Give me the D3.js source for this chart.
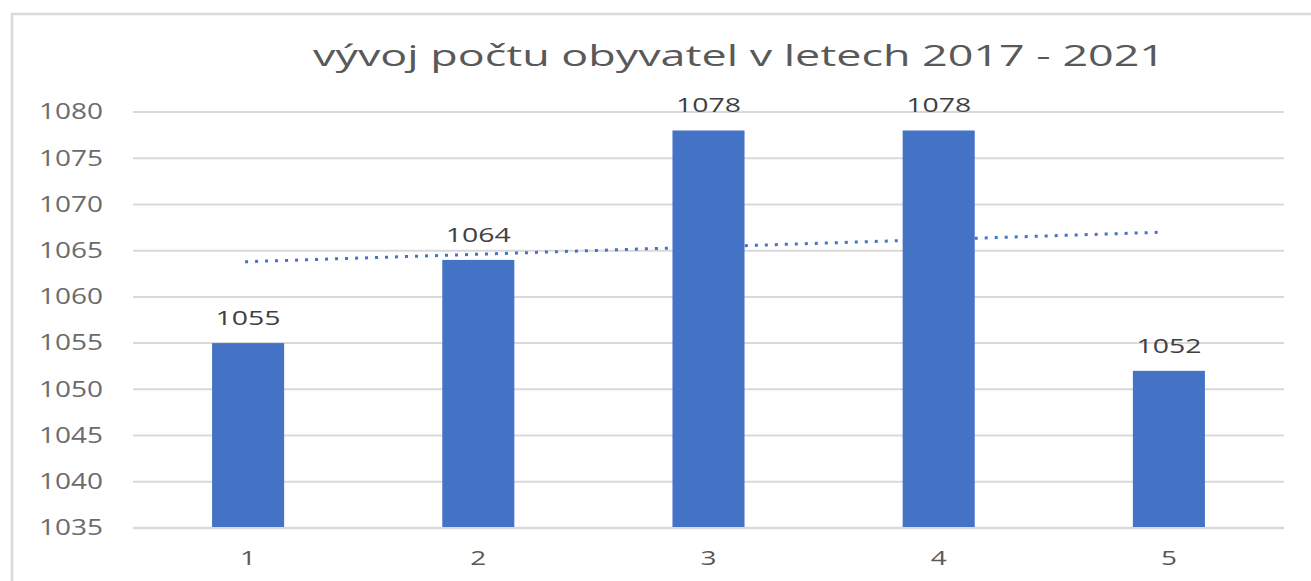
<!DOCTYPE html>
<html>
<head>
<meta charset="utf-8">
<script src="https://cdn.jsdelivr.net/npm/d3@7"></script>
<style>
  body { margin: 0; background: #fff; }
  svg { display: block; }
  text { font-family: "Open Sans", sans-serif; }
</style>
</head>
<body>
<div id="chart"></div>
<script>
// chart data
const titleText = "vývoj počtu obyvatel v letech 2017 - 2021";
const categories = ["1", "2", "3", "4", "5"];
const values = [1055, 1064, 1078, 1078, 1052];
const yTicks = [1035, 1040, 1045, 1050, 1055, 1060, 1065, 1070, 1075, 1080];
// dotted linear trend, read at the first and last category
const trendValues = [1063.8, 1067.0];

const width = 1311, height = 581;
const margin = { top: 112, right: 27, bottom: 53, left: 133 };

const svg = d3.select("#chart").append("svg")
    .attr("width", width)
    .attr("height", height);

// outer chart frame (runs off the right / bottom edge like the screenshot)
svg.append("rect")
    .attr("x", 12).attr("y", 14)
    .attr("width", width + 20).attr("height", height + 20)
    .attr("fill", "none")
    .attr("stroke", "#d9d9d9")
    .attr("stroke-width", 2.5);

const x = d3.scaleBand()
    .domain(categories)
    .range([margin.left, width - margin.right])
    .paddingInner(0.687)
    .paddingOuter(0.3435);

const y = d3.scaleLinear()
    .domain([1035, 1080])
    .range([height - margin.bottom, margin.top]);

// gridlines
svg.append("g")
    .selectAll("line")
    .data(yTicks)
    .join("line")
    .attr("x1", margin.left)
    .attr("x2", width - margin.right)
    .attr("y1", d => y(d))
    .attr("y2", d => y(d))
    .attr("stroke", "#d9d9d9")
    .attr("stroke-width", d => d === 1035 ? 2.5 : 2);

// y tick labels
svg.append("g")
    .selectAll("text")
    .data(yTicks)
    .join("text")
    .attr("x", 103)
    .attr("y", d => y(d))
    .attr("dy", "0.35em")
    .attr("text-anchor", "end")
    .attr("font-size", 21)
    .attr("fill", "#6b6b6b")
    .attr("textLength", 64)
    .attr("lengthAdjust", "spacingAndGlyphs")
    .text(d => d);

// bars
svg.append("g")
    .selectAll("rect")
    .data(values)
    .join("rect")
    .attr("x", (d, i) => x(categories[i]))
    .attr("width", x.bandwidth())
    .attr("y", d => y(d))
    .attr("height", d => y(1035) - y(d) - 1)
    .attr("fill", "#4472c4");

// trend line (dotted)
svg.append("line")
    .attr("x1", x(categories[0]) + x.bandwidth() / 2 - 3)
    .attr("x2", x(categories[4]) + x.bandwidth() / 2 - 6)
    .attr("y1", y(trendValues[0]))
    .attr("y2", y(trendValues[1]))
    .attr("stroke", "#4472c4")
    .attr("stroke-width", 3)
    .attr("stroke-dasharray", "3 7");

// data labels
svg.append("g")
    .selectAll("text")
    .data(values)
    .join("text")
    .attr("x", (d, i) => x(categories[i]) + x.bandwidth() / 2)
    .attr("y", d => y(d) - 18)
    .attr("text-anchor", "middle")
    .attr("font-size", 20)
    .attr("fill", "#404040")
    .attr("textLength", 65)
    .attr("lengthAdjust", "spacingAndGlyphs")
    .text(d => d);

// category labels
svg.append("g")
    .selectAll("text")
    .data(categories)
    .join("text")
    .attr("x", d => x(d) + x.bandwidth() / 2)
    .attr("y", 565)
    .attr("text-anchor", "middle")
    .attr("font-size", 20)
    .attr("fill", "#595959")
    .attr("textLength", 16)
    .attr("lengthAdjust", "spacingAndGlyphs")
    .text(d => d);

// title
svg.append("text")
    .attr("x", 313)
    .attr("y", 66)
    .attr("font-size", 30)
    .attr("fill", "#595959")
    .attr("textLength", 852)
    .attr("lengthAdjust", "spacingAndGlyphs")
    .text(titleText);
</script>
</body>
</html>
